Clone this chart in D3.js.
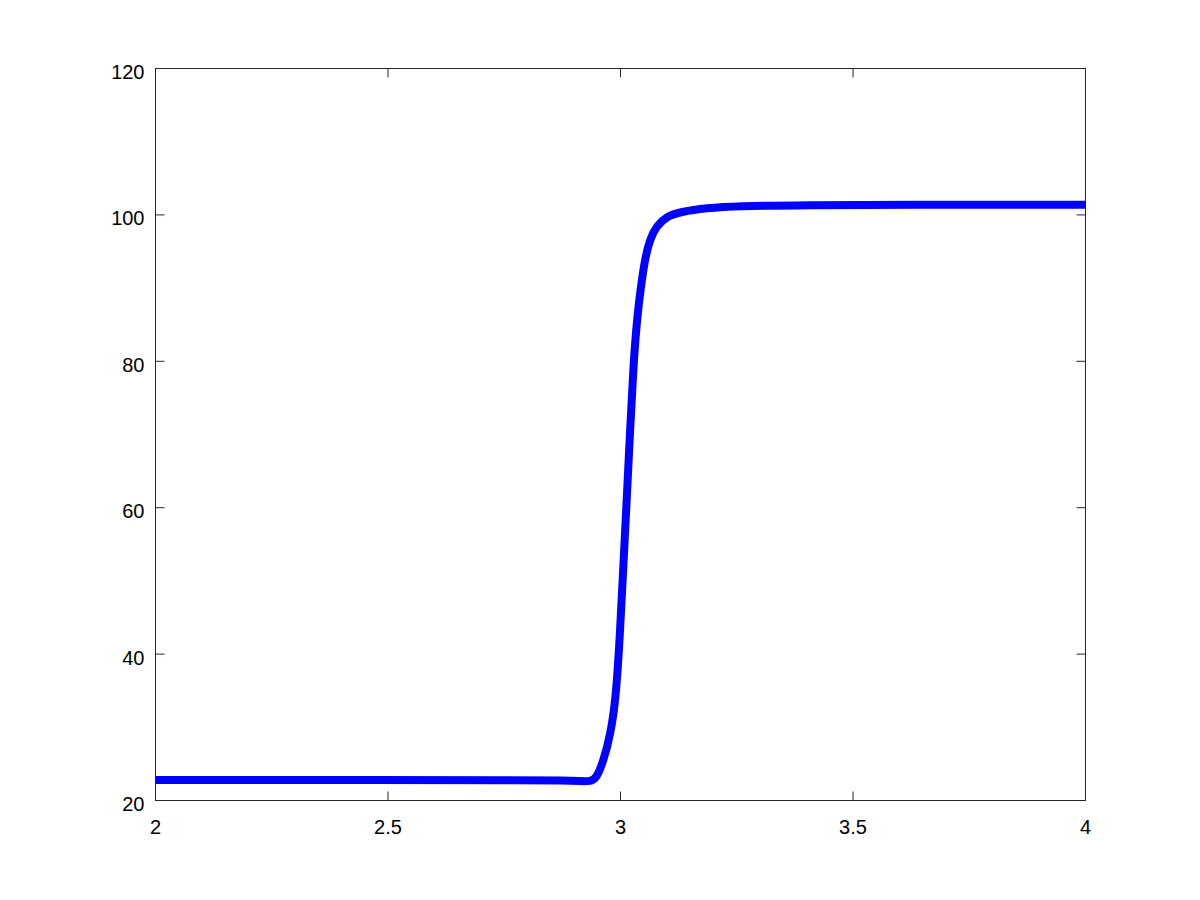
<!DOCTYPE html>
<html><head><meta charset="utf-8">
<script src="https://cdn.jsdelivr.net/npm/d3@7"></script>
<style>body{margin:0;background:#fff}svg{display:block}text{font-family:"Liberation Sans",Arial,sans-serif}</style>
</head><body><svg id="c" width="1200" height="900"></svg>
<script>
const xs = [2.0, 2.5, 2.8, 2.88, 2.913, 2.935, 2.948, 2.963, 2.979, 2.990, 2.999, 3.006, 3.0133, 3.0204, 3.0275, 3.0361, 3.0456, 3.0527, 3.0634, 3.0778, 3.0994, 3.128, 3.185, 3.25, 3.4, 3.6, 4.0];
const ys = [22.8, 22.8, 22.78, 22.72, 22.66, 22.6, 23.0, 25.3, 29.2, 33.9, 42.8, 51.9, 61.0, 70.2, 79.3, 86.3, 91.0, 94.0, 96.7, 98.5, 99.8, 100.4, 100.95, 101.2, 101.35, 101.4, 101.4];
const xTicks = [2, 2.5, 3, 3.5, 4];
const xTickLabels = ["2", "2.5", "3", "3.5", "4"];
const yTicks = [20, 40, 60, 80, 100, 120];
const yTickLabels = ["20", "40", "60", "80", "100", "120"];

const svg = d3.select("#c");
const L = 155.5, R = 1085.5, T = 68.5, B = 800.5;
const x = d3.scaleLinear().domain([2, 4]).range([L, R]);
const y = d3.scaleLinear().domain([20, 120]).range([B, T]);
const axisColor = "#262626";

const data = xs.map((v, i) => [v, ys[i]]);
svg.append("path").datum(data)
  .attr("fill", "none").attr("stroke", "#0000ff").attr("stroke-width", 8)
  .attr("stroke-linejoin", "round")
  .attr("d", d3.line().x(d => x(d[0])).y(d => y(d[1])).curve(d3.curveBasis));

svg.append("rect").attr("x", L).attr("y", T).attr("width", R - L).attr("height", B - T)
  .attr("fill", "none").attr("stroke", axisColor).attr("stroke-width", 1);

const tl = 9;
const gx = svg.append("g");
xTicks.forEach((t, i) => {
  const px = x(t);
  gx.append("line").attr("x1", px).attr("x2", px).attr("y1", B).attr("y2", B - tl).attr("stroke", axisColor);
  gx.append("line").attr("x1", px).attr("x2", px).attr("y1", T).attr("y2", T + tl).attr("stroke", axisColor);
  gx.append("text").attr("x", px).attr("y", B + 33).attr("text-anchor", "middle")
    .attr("font-size", 20).attr("fill", "#000").text(xTickLabels[i]);
});
const gy = svg.append("g");
yTicks.forEach((t, i) => {
  const py = y(t);
  gy.append("line").attr("x1", L).attr("x2", L + tl).attr("y1", py).attr("y2", py).attr("stroke", axisColor);
  gy.append("line").attr("x1", R).attr("x2", R - tl).attr("y1", py).attr("y2", py).attr("stroke", axisColor);
  gy.append("text").attr("x", L - 11).attr("y", py + 10.5).attr("text-anchor", "end")
    .attr("font-size", 20).attr("fill", "#000").text(yTickLabels[i]);
});
</script></body></html>
